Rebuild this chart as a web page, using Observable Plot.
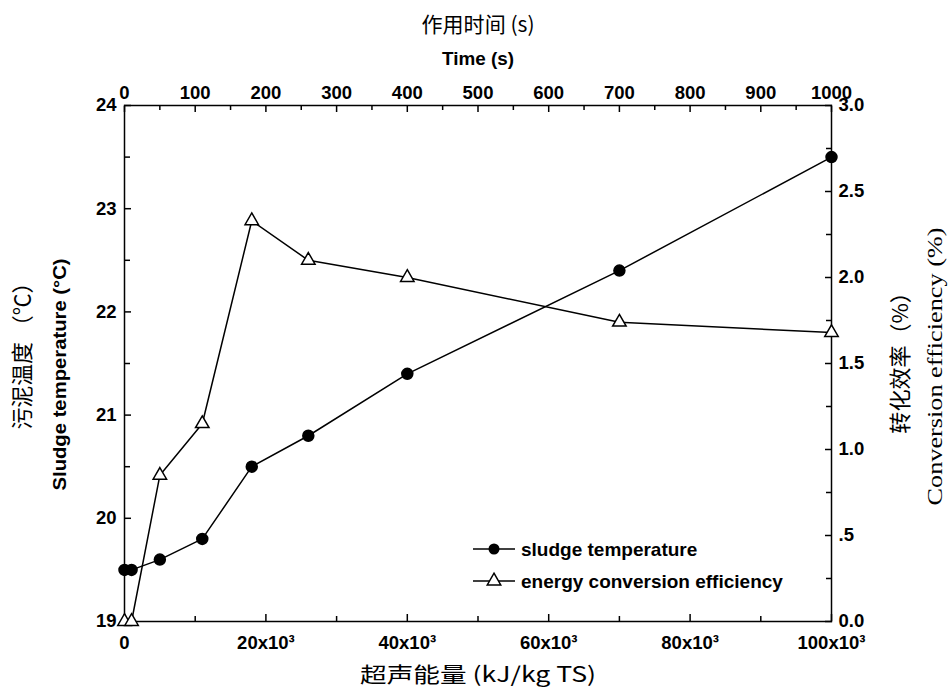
<!DOCTYPE html>
<html>
<head>
<meta charset="utf-8">
<script src="https://cdn.jsdelivr.net/npm/d3@7"></script>
<script src="https://cdn.jsdelivr.net/npm/@observablehq/plot@0.6"></script>
<style>
  html, body { margin: 0; padding: 0; background: #fff; }
  #chart { width: 950px; height: 690px; }
</style>
</head>
<body>
<div id="chart"></div>
<script>
// ---- data ----
const energy = [0, 1000, 5000, 11000, 18000, 26000, 40000, 70000, 100000]; // kJ/kg TS
const sludgeTemp = [19.5, 19.5, 19.6, 19.8, 20.5, 20.8, 21.4, 22.4, 23.5]; // °C
const convEff = [0, 0, 0.85, 1.15, 2.33, 2.1, 2.0, 1.74, 1.68]; // %

const xMajorTicks = [0, 20000, 40000, 60000, 80000, 100000];
const xMinorTicks = [10000, 30000, 50000, 70000, 90000];
const timeMajorTicks = [0, 100, 200, 300, 400, 500, 600, 700, 800, 900, 1000];
const timeMinorTicks = [50, 150, 250, 350, 450, 550, 650, 750, 850, 950];
const tempMajorTicks = [19, 20, 21, 22, 23, 24];
const tempMinorTicks = [19.5, 20.5, 21.5, 22.5, 23.5];
const effMajorTicks = [0, 0.5, 1.0, 1.5, 2.0, 2.5, 3.0];
const effMinorTicks = [0.25, 0.75, 1.25, 1.75, 2.25, 2.75];
const effTickLabels = ["0.0", ".5", "1.0", "1.5", "2.0", "2.5", "3.0"];

const seriesNames = ["sludge temperature", "energy conversion efficiency"];

// ---- scale links ----
const tempDomain = [19, 24];
const effDomain = [0, 3];
const effToTemp = e => tempDomain[0] + (e - effDomain[0]) * (tempDomain[1] - tempDomain[0]) / (effDomain[1] - effDomain[0]);
const energyPerSecond = 100; // 1000 s  <->  100x10^3 kJ/kg TS on the shared axis
const timeToX = t => t * energyPerSecond;

const rows = energy.map((e, i) => ({energy: e, temp: sludgeTemp[i], eff: convEff[i], effT: effToTemp(convEff[i])}));

const sans = "'Liberation Sans', Arial, Helvetica, sans-serif";
const serif = "'Liberation Serif', 'Times New Roman', serif";
const cjk = "'Noto Sans CJK SC', 'Liberation Sans', sans-serif";

const tickFS = 18.5;
const eFmt = d => d === 0 ? "0" : `${d / 1000}x10³`;

// title texts
const titleTopCn = "作用时间 (s)";
const titleTopEn = "Time (s)";
const titleBottom = "超声能量 (kJ/kg TS)";
const titleLeftCn = "污泥温度 （℃）";
const titleLeftEn = "Sludge temperature (°C)";
const titleRightCn = "转化效率（%）";
const titleRightEn = "Conversion efficiency (%)";

const plot = Plot.plot({
  width: 950,
  height: 690,
  marginLeft: 124,
  marginRight: 119,
  marginTop: 105,
  marginBottom: 69,
  style: {fontFamily: sans, fontSize: tickFS + "px", color: "#000", background: "#fff", overflow: "visible"},
  x: {domain: [0, 100000]},
  y: {domain: tempDomain},
  marks: [
    // bottom axis
    Plot.axisX(xMajorTicks, {anchor: "bottom", tickSize: -7, tickPadding: 21, tickFormat: eFmt, label: null, fontSize: tickFS, fontWeight: "bold", strokeWidth: 1.5}),
    Plot.axisX(xMinorTicks, {anchor: "bottom", tickSize: -5, tickFormat: () => "", label: null, strokeWidth: 1.5}),
    // top axis (time)
    Plot.axisX(timeMajorTicks.map(timeToX), {anchor: "top", tickSize: -6, tickPadding: 13, tickFormat: d => String(d / energyPerSecond), label: null, fontSize: tickFS, fontWeight: "bold", strokeWidth: 1.5}),
    Plot.axisX(timeMinorTicks.map(timeToX), {anchor: "top", tickSize: -4, tickFormat: () => "", label: null, strokeWidth: 1.5}),
    // left axis (temperature)
    Plot.axisY(tempMajorTicks, {anchor: "left", tickSize: -7, tickPadding: 15, tickFormat: d => String(d), label: null, fontSize: tickFS, fontWeight: "bold", strokeWidth: 1.5}),
    Plot.axisY(tempMinorTicks, {anchor: "left", tickSize: -6, tickFormat: () => "", label: null, strokeWidth: 1.5}),
    // right axis (efficiency)
    Plot.axisY(effMajorTicks.map(effToTemp), {anchor: "right", tickSize: -7, tickPadding: 14, tickFormat: (d, i) => effTickLabels[i], label: null, fontSize: tickFS, fontWeight: "bold", strokeWidth: 1.5}),
    Plot.axisY(effMinorTicks.map(effToTemp), {anchor: "right", tickSize: -6, tickFormat: () => "", label: null, strokeWidth: 1.5}),
    Plot.frame({stroke: "#000", strokeWidth: 1.5}),
    // series
    Plot.line(rows, {x: "energy", y: "effT", stroke: "#000", strokeWidth: 1.5}),
    Plot.line(rows, {x: "energy", y: "temp", stroke: "#000", strokeWidth: 1.5}),
    Plot.dot(rows, {x: "energy", y: "temp", r: 5.5, fill: "#000", stroke: "#000"}),
    Plot.dot(rows, {x: "energy", y: "effT", r: 5, symbol: "triangle", fill: "#fff", stroke: "#000", strokeWidth: 1.5}),
    // titles
    Plot.text([titleTopCn], {frameAnchor: "top", dy: -88, fontSize: 21, fontFamily: cjk, fill: "#000"}),
    Plot.text([titleTopEn], {frameAnchor: "top", dy: -53, fontSize: 18, fontWeight: "bold", fill: "#000"}),
    Plot.text([titleBottom], {frameAnchor: "bottom", dy: 60, fontSize: 21, fontFamily: cjk, fill: "#000"}),
    Plot.text([titleLeftCn], {frameAnchor: "left", textAnchor: "middle", rotate: -90, dx: -102, dy: -13, fontSize: 22, fontFamily: cjk, fill: "#000"}),
    Plot.text([titleLeftEn], {frameAnchor: "left", textAnchor: "middle", rotate: -90, dx: -64, dy: 11, fontSize: 18, fontWeight: "bold", fill: "#000"}),
    Plot.text([titleRightCn], {frameAnchor: "right", textAnchor: "middle", rotate: -90, dx: 69, dy: -6, fontSize: 22, fontFamily: cjk, fill: "#000"}),
    Plot.text([titleRightEn], {frameAnchor: "right", textAnchor: "middle", rotate: -90, dx: 103, dy: 3, fontSize: 22, fontFamily: serif, fill: "#000"})
  ]
});

document.getElementById("chart").appendChild(plot);
const svg = d3.select(plot);

// stretch titles to the lengths they have in the (scanned) original
const stretch = {[titleTopCn]: 113, [titleTopEn]: 72, [titleBottom]: 236, [titleLeftCn]: 158, [titleLeftEn]: 232, [titleRightEn]: 278};
svg.selectAll("text").each(function () {
  const L = stretch[this.textContent];
  if (L) d3.select(this).attr("textLength", L).attr("lengthAdjust", "spacingAndGlyphs");
});

// ---- legend (inside plot area) ----
const lg = svg.append("g").attr("transform", "translate(473,549)");
seriesNames.forEach((name, i) => {
  const g = lg.append("g").attr("transform", `translate(0,${i * 32})`);
  g.append("line").attr("x1", 0).attr("x2", 42).attr("y1", 0).attr("y2", 0).attr("stroke", "#000").attr("stroke-width", 1.5);
  if (i === 0) {
    g.append("circle").attr("cx", 21).attr("cy", 0).attr("r", 5.5).attr("fill", "#000");
  } else {
    g.append("path").attr("transform", "translate(21,0)").attr("d", d3.symbol(d3.symbolTriangle, Math.PI * 25)()).attr("fill", "#fff").attr("stroke", "#000").attr("stroke-width", 1.5);
  }
  g.append("text").attr("x", 48).attr("y", 0).attr("dy", "0.35em").attr("text-anchor", "start").attr("font-size", 19).attr("font-weight", "bold").attr("font-family", sans).attr("fill", "#000").text(name);
});
</script>
</body>
</html>
